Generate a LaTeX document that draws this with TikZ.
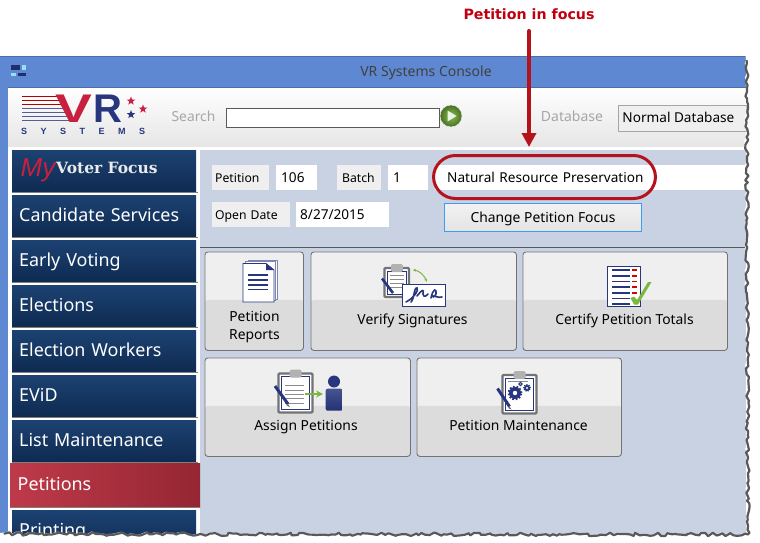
\documentclass[tikz,border=0pt]{standalone}
\usepackage{fontspec}
\setmainfont{Noto Sans}
\newfontfamily\labelfont{DejaVu Sans}
\newfontfamily\logofont{Liberation Sans}
\newfontfamily\focusfont{DejaVu Serif}
\usetikzlibrary{shapes.geometric,decorations.pathmorphing,arrows.meta,calc}
\definecolor{winblue}{HTML}{5F88D2}
\definecolor{winedge}{HTML}{4A6FA8}
\definecolor{panel}{HTML}{C8D2E3}
\definecolor{navy}{HTML}{27367F}
\definecolor{alert}{HTML}{B5121B}
\definecolor{alerttext}{HTML}{C00010}
\definecolor{labelbg}{HTML}{EFEFEF}
\definecolor{tilehi}{HTML}{EFEFEF}
\definecolor{tilelo}{HTML}{DCDCDC}
\definecolor{menutop}{HTML}{1C4272}
\definecolor{menubot}{HTML}{0E2A50}
\definecolor{leaf}{HTML}{7CB83C}
\definecolor{vrred}{HTML}{C8213F}
\definecolor{petleft}{HTML}{BE3A4A}
\definecolor{petright}{HTML}{952632}
\definecolor{focusblue}{HTML}{3F9BF0}
\tikzset{
  x=1pt,y=-1pt,
  px/.style={font=\fontsize{#1}{#1}\selectfont},
  flat/.style={text height=10pt,text depth=1pt},
  menubase/.style={anchor=north west,inner sep=0pt,align=left,text=white,px=17.9,text height=13pt,text depth=3pt},
  menubtn/.style={menubase,minimum width=184pt,minimum height=42pt,text width=177pt,top color=menutop,bottom color=menubot},
  fieldlabel/.style={anchor=north west,fill=labelbg,minimum height=25pt,inner sep=0pt,px=12.2,text=black,align=left,flat},
  fieldbox/.style={anchor=north west,fill=white,minimum height=25pt,inner sep=0pt,px=13.6,text=black,align=left,flat},
  tile/.style n args={3}{anchor=north west,draw=black!55,line width=.9pt,rounded corners=3pt,fill=tilehi,
    minimum width=#1pt,minimum height=#2pt,inner sep=0pt,
    path picture={\fill[tilelo] ([yshift=-#3pt]path picture bounding box.north west) rectangle (path picture bounding box.south east);}},
  tiletext/.style={px=13.85,text=black,align=center,inner sep=0pt,text height=10pt,text depth=3pt},
  sheet/.style={fill=white,draw=navy,line width=.8pt},
  clipframe/.style={fill=white,draw=black!55,line width=2.2pt,rounded corners=1pt},
  inkline/.style={navy,line width=1.3pt},
  greyline/.style={black!45,line width=.7pt},
  penstroke/.style={navy,line width=3pt},
  torn/.style={decoration={random steps,segment length=3.5pt,amplitude=1.7pt}},
}
\newcommand{\clipboard}[4]{% x1,y1,x2,y2
  \draw[clipframe] (#1,#2) rectangle (#3,#4);
  \draw[navy,line width=.8pt,fill=white] (#1+3,#2+3) rectangle (#3-3,#4-3);
  \fill[black!30,rounded corners=1.5pt] ({(#1+#3)/2-6},#2-4) rectangle ({(#1+#3)/2+6},#2+4);
}
\begin{document}
\begin{tikzpicture}
\useasboundingbox (0,0) rectangle (760,543);
\fill[white] (0,0) rectangle (760,543);
% window
\fill[winblue] (0,56) rectangle (746,540);
\draw[winedge,line width=.8pt] (0,56.5) -- (746,56.5);
\shade[top color=white,bottom color=black!10] (8,87) rectangle (746,147);
\draw[winedge,line width=.6pt] (8,87) -- (746,87);
\fill[white] (8,147) rectangle (200,540);
\fill[white] (200,147) rectangle (746,150);
\fill[panel] (200,150) rectangle (746,540);
\fill[navy!85!black] (11,65) rectangle (20,70);
\fill[cyan!40] (22,65) rectangle (26,70);
\fill[cyan!40] (11,73) rectangle (16,76);
\fill[navy!85!black] (18,73) rectangle (26,76);
\node[px=14,text=black!75,inner sep=0pt,flat] (title) at (426,72) {VR Systems Console};
% logo
\foreach \yy/\cc in {96.5/red!70!black,100.5/red!70!black,104.5/red!70!black,108.5/navy!80,112.5/navy!80,116.5/navy!80,120.5/navy!80}{
  \draw[\cc,line width=1.6pt] (22,\yy) -- ({58+(\yy-95)*.42},\yy);
}
\node[font=\logofont\bfseries\fontsize{40}{40}\selectfont,text=vrred,inner sep=0pt,xscale=1.38,transform shape] (logoV) at (73.5,109) {V};
\node[font=\logofont\bfseries\fontsize{40}{40}\selectfont,text=navy,inner sep=0pt] (logoR) at (108,109) {R};
\node[star,star points=5,star point ratio=2.4,fill=vrred,inner sep=0pt,minimum size=9pt] (starA) at (131,101) {};
\node[star,star points=5,star point ratio=2.4,fill=navy,inner sep=0pt,minimum size=9pt] (starB) at (131,114.5) {};
\node[star,star points=5,star point ratio=2.4,fill=vrred,inner sep=0pt,minimum size=9pt] (starC) at (143,109) {};
\node[font=\logofont\bfseries\fontsize{9}{9}\selectfont,text=navy,inner sep=0pt,anchor=west] (logoword) at (21,131.5) {\addfontfeature{LetterSpace=150}SYSTEMS};
% search
\node[px=13.8,text=black!35,inner sep=0pt,flat] (searchlabel) at (193.5,117) {Search};
\node[anchor=north west,draw=black!65,fill=white,line width=.8pt,minimum width=213pt,minimum height=19pt,inner sep=0pt] (searchbox) at (226,108) {};
\node[circle,draw=black!8,line width=.5pt,inner color=leaf!90!white,outer color=leaf!60!black,minimum size=22pt,inner sep=0pt] (go) at (451,116) {};
\fill[white!85!leaf] (447.5,110.5) -- (456.5,116) -- (447.5,121.5) -- cycle;
\node[px=14,text=black!35,inner sep=0pt,flat] (dblabel) at (572,117) {Database};
\node[anchor=north west,draw=black!35,fill=labelbg,line width=.8pt,minimum width=128pt,minimum height=26pt,inner sep=0pt,px=13.6,text=black,flat] (dbbox) at (618,105) {\hspace*{-8pt}Normal Database};
% menu
\node[menubtn] (mfocus) at (12,150) {};
\node[inner sep=0pt,font=\logofont\itshape\fontsize{26}{26}\selectfont,text=vrred] (my) at (38,170) {My};
\node[inner sep=0pt,font=\focusfont\bfseries\fontsize{15.5}{15.5}\selectfont,text=white!92!black,anchor=west] (vf) at (56,168) {Voter Focus};
\foreach \yy/\nn/\tt in {195/mcand/Candidate Services,240/mearly/Early Voting,285/melect/Elections,330/mwork/Election Workers,375/mevid/EViD,420/mlist/List Maintenance,510/mprint/Printing}{
  \node[menubtn] (\nn) at (12,\yy) {\hspace*{3.5pt}\tt};
  \draw[black!50,line width=1.2pt] (12,\yy+42.5) -- (198,\yy+42.5);
}
\draw[black!50,line width=1.2pt] (12,192.5) -- (198,192.5);
\node[menubase,minimum width=190pt,minimum height=44pt,text width=181pt,left color=petleft,right color=petright] (mpet) at (10,463) {\hspace*{3pt}Petitions};
\draw[black!50,line width=1.2pt] (10,507.5) -- (200,507.5);
% fields
\node[fieldlabel,minimum width=57pt,text width=51pt] (lpet) at (212,165) {Petition};
\node[fieldbox,minimum width=41pt,text width=31pt] (vpet) at (276,165) {106};
\node[fieldlabel,minimum width=44pt,text width=34pt] (lbatch) at (337,165) {Batch};
\node[fieldbox,minimum width=40pt,text width=30pt] (vbatch) at (388,165) {1};
\node[fieldbox,minimum width=311pt,text width=299pt] (vname) at (435,165) {\hspace*{6pt}Natural Resource Preservation};
\node[fieldlabel,minimum width=78pt,text width=72pt] (ldate) at (212,202) {Open Date};
\node[fieldbox,minimum width=93pt,text width=85pt] (vdate) at (296,202) {8/27/2015};
\node[anchor=north west,draw=focusblue,top color=black!5,bottom color=black!11,line width=1pt,minimum width=197pt,minimum height=28pt,inner sep=0pt,px=13.85,text=black,flat] (change) at (444,203) {Change Petition Focus};
\draw[black!65,line width=.9pt] (200,247.5) -- (746,247.5);
% tiles
\node[tile={98.5}{98.5}{48}] (t1) at (204.5,251.5) {};
\node[tile={205.5}{98.5}{48}] (t2) at (310.5,251.5) {};
\node[tile={204.5}{98.5}{48}] (t3) at (522.5,251.5) {};
\node[tile={205.5}{98.5}{48}] (t4) at (204.5,357.5) {};
\node[tile={204.5}{98.5}{48}] (t5) at (416.5,357.5) {};
\node[tiletext] (t1a) at (254.5,317.5) {Petition};
\node[tiletext] (t1b) at (254.5,336) {Reports};
\node[tiletext] (t2a) at (412.5,321) {Verify Signatures};
\node[tiletext] (t3a) at (624.5,321) {Certify Petition Totals};
\node[tiletext] (t4a) at (306,427) {Assign Petitions};
\node[tiletext] (t5a) at (518.5,427) {Petition Maintenance};
% icon: reports
\draw[fill=white,draw=navy!60,line width=.7pt] (248,260) rectangle (277,299);
\draw[fill=white,draw=navy!60,line width=.7pt] (245.5,261.5) rectangle (275.5,300.5);
\draw[sheet] (243,263.5) -- (266,263.5) -- (274,270) -- (274,302) -- (243,302) -- cycle;
\fill[navy] (266,263.5) -- (274,270) -- (266,270) -- cycle;
\foreach \yy in {275,280,285,289.5} \draw[inkline] (248,\yy) -- (268,\yy);
% icon: verify
\clipboard{384.5}{268}{409}{297}
\foreach \yy in {275,279,283,287} \draw[greyline] (390,\yy) -- (404,\yy);
\draw[penstroke,line width=2.6pt] (382,278.5) -- (393,293);
\draw[sheet] (402,284.5) rectangle (445.5,306.5);
\draw[navy,line width=1.6pt,line cap=round] (406,302) .. controls (414,298) and (419,290) .. (417,288) .. controls (414,287) and (414,300) .. (411,302) (417,296) .. controls (422,290) and (424,288) .. (423,294) .. controls (424,298) and (426,296) .. (428,294) (431,298) .. controls (433,288) and (437,288) .. (436,294) .. controls (434,298) and (432,297) .. (433,296) .. controls (436,296) and (438,298) .. (442,297);
\draw[leaf,line width=1pt,{Stealth[length=3.5pt]}-{Stealth[length=3.5pt]}] (412.5,270) .. controls (419,270.5) and (424,275) .. (427,282);
% icon: totals
\draw[sheet,fill=white,line width=.9pt] (607.5,266) rectangle (640.5,306.5);
\foreach \yy in {270,276,281.5,287,293,298.5,304}{
  \draw[navy,line width=1.1pt] (612,\yy) -- (630,\yy);
}
\foreach \yy in {270,276,281.5,287,293} \draw[red!85!black,line width=1.1pt] (632,\yy) -- (637,\yy);
\fill[leaf] (630.5,298) -- (634,296.5) -- (637,300) -- (648,282) -- (651.5,282) -- (638,304.5) -- (634,304.5) -- cycle;
% icon: assign
\clipboard{278.5}{373.5}{312.5}{412.5}
\foreach \yy in {385,390,394,398,403} \draw[greyline] (285,\yy) -- (304,\yy);
\draw[penstroke] (275,386) -- (288,404);
\fill[black!60] (288,404) -- (290,407) -- (286.5,405.5) -- cycle;
\draw[leaf,line width=1.6pt,-{Stealth[length=7pt,width=7pt]}] (305,394) -- (323,394);
\node[circle,fill=navy,minimum size=12pt,inner sep=0pt] (head) at (334,381.5) {};
\node[anchor=north west,rounded corners=2pt,top color=navy!85,bottom color=navy!90!black,minimum width=17pt,minimum height=22pt,inner sep=0pt] (body) at (325.5,388.5) {};
% icon: maintenance
\clipboard{502.5}{375}{536.5}{413.5}
\draw[greyline] (508,381) -- (528,381);
\draw[navy,line width=2.6pt,dash pattern=on 1.6pt off 1.6pt] (515,393) circle (6pt);
\fill[navy] (515,393) circle (6pt);
\fill[white] (515,393) circle (2.2pt);
\draw[navy,line width=1.4pt,dash pattern=on 1.1pt off 1.1pt] (527,388) circle (3.2pt);
\fill[navy] (527,388) circle (3pt);
\fill[white] (527,388) circle (1.1pt);
\draw[navy,line width=1pt] (520.5,384) circle (1.6pt);
\draw[penstroke] (497.5,388.5) -- (509.5,406.5);
\fill[black!60] (509.5,406.5) -- (511.5,409.5) -- (508,408) -- cycle;
% torn edge
\pgfmathsetseed{7}
\fill[white,torn] decorate {(745.5,56) -- (747,533.5) -- (0,533)} -- (0,543) -- (760,543) -- (760,50) -- cycle;
\pgfmathsetseed{7}
\draw[black!65,line width=2.2pt,torn,line join=round] decorate {(746.5,60) -- (748,534.5) -- (4,534)};
% callout
\node[inner sep=0pt,font=\labelfont\bfseries\fontsize{14.2}{14.2}\selectfont,text=alerttext] (callout) at (529,14) {Petition in focus};
\node[draw=alert,line width=3pt,rounded corners=22pt,minimum width=222pt,minimum height=43pt,inner sep=0pt] (focusring) at (544.5,177) {};
\coordinate (tail) at (529,31);
\coordinate (tip) at (529,147);
\draw[alert,line width=4pt,-{Triangle[length=14pt,width=14pt]},line cap=round] (tail) -- (tip);
\end{tikzpicture}
\end{document}
